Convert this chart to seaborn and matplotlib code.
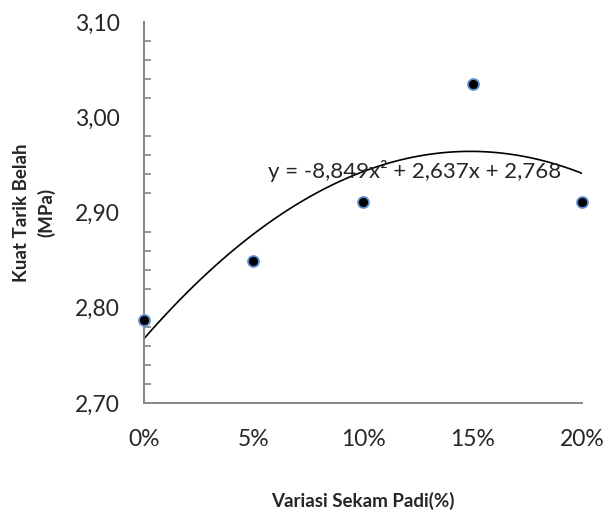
import numpy as np
import pandas as pd
import matplotlib.pyplot as plt
import matplotlib.ticker as mticker
import seaborn as sns

# data
variasi = [0.00, 0.05, 0.10, 0.15, 0.20]
kuat_tarik = [2.787, 2.849, 2.911, 3.035, 2.911]
persamaan = "y = -8,849x\u00b2 + 2,637x + 2,768"
y_ticks = [2.70, 2.80, 2.90, 3.00, 3.10]
x_ticks = [0.00, 0.05, 0.10, 0.15, 0.20]

AXIS_GREY = "#868686"


def comma_fmt(v, pos=None):
    return f"{v:.2f}".replace(".", ",")


def pct_fmt(v, pos=None):
    return f"{v * 100:.0f}%"


def plot_chart(df):
    sns.set_style("white")
    plt.rcParams["font.family"] = ["Lato", "DejaVu Sans"]

    fig = plt.figure(figsize=(6.05, 5.17), dpi=100)
    ax = fig.add_axes([0.238, 0.2205, 0.724, 0.737])

    sns.regplot(data=df, x="variasi", y="kuat", order=2, ci=None,
                scatter=False, truncate=True,
                line_kws={"color": "black", "linewidth": 1.2}, ax=ax)
    sns.scatterplot(data=df, x="variasi", y="kuat", ax=ax, s=62,
                    color="black", edgecolor="#5B8FCF", linewidth=1.3,
                    zorder=5, clip_on=False)

    ax.set_xlim(0, 0.2)
    ax.set_ylim(2.70, 3.10)
    ax.set_xticks(x_ticks)
    ax.set_yticks(y_ticks)
    ax.yaxis.set_minor_locator(mticker.MultipleLocator(0.02))
    ax.xaxis.set_major_formatter(mticker.FuncFormatter(pct_fmt))
    ax.yaxis.set_major_formatter(mticker.FuncFormatter(comma_fmt))

    for side in ["top", "right"]:
        ax.spines[side].set_visible(False)
    for side in ["left", "bottom"]:
        ax.spines[side].set_color(AXIS_GREY)
        ax.spines[side].set_linewidth(1.4)

    ax.tick_params(axis="y", which="major", direction="inout", length=11,
                   width=1.2, color=AXIS_GREY, labelsize=16.5, pad=12)
    ax.tick_params(axis="y", which="minor", direction="in", length=5,
                   width=1.2, color=AXIS_GREY, left=True)
    ax.tick_params(axis="x", which="major", direction="in", length=6,
                   width=1.2, color=AXIS_GREY, labelsize=16.5, pad=19)

    ax.set_xlabel("Variasi Sekam Padi(%)", fontsize=13.5, fontweight="bold",
                  labelpad=30)
    ax.set_ylabel("Kuat Tarik Belah\n(MPa)", fontsize=13.5, fontweight="bold",
                  labelpad=14, linespacing=1.45)

    ax.text(0.0565, 2.936, persamaan, fontsize=16, ha="left", va="baseline")

    fig.savefig("out.png", dpi=100)
    plt.close(fig)


if __name__ == "__main__":
    df = pd.DataFrame({"variasi": variasi, "kuat": kuat_tarik})
    plot_chart(df)
